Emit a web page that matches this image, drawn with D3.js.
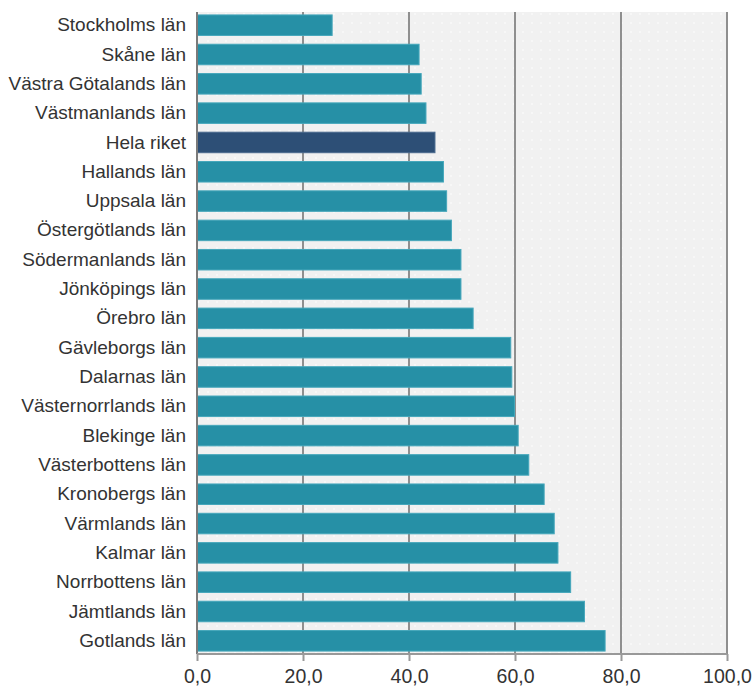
<!DOCTYPE html>
<html>
<head>
<meta charset="utf-8">
<script src="https://cdn.jsdelivr.net/npm/d3@7"></script>
<style>
  body { margin: 0; background: #fff; }
  text { font-family: "Liberation Sans", Arial, sans-serif; }
</style>
</head>
<body>
<div id="canvas"></div>
<script>
// data
const regions = ["Stockholms län", "Skåne län", "Västra Götalands län", "Västmanlands län", "Hela riket",
  "Hallands län", "Uppsala län", "Östergötlands län", "Södermanlands län", "Jönköpings län", "Örebro län",
  "Gävleborgs län", "Dalarnas län", "Västernorrlands län", "Blekinge län", "Västerbottens län",
  "Kronobergs län", "Värmlands län", "Kalmar län", "Norrbottens län", "Jämtlands län", "Gotlands län"];
const values = [25.5, 41.9, 42.3, 43.2, 44.9, 46.5, 47.1, 48.0, 49.8, 49.8, 52.1,
  59.2, 59.4, 59.9, 60.6, 62.6, 65.5, 67.4, 68.1, 70.5, 73.1, 77.0];
const xTicks = [0, 20, 40, 60, 80, 100];
const highlight = "Hela riket";

const width = 752;
const height = 686;
const margin = {top: 12, left: 197, bottom: 32, right: 25};
const iwidth = width - margin.left - margin.right;
const iheight = height - margin.top - margin.bottom;

const data = regions.map((r, i) => ({name: r, value: values[i]}));

const svg = d3.select("#canvas").append("svg")
  .attr("width", width)
  .attr("height", height);

// dotted plot background
const defs = svg.append("defs");
const pat = defs.append("pattern")
  .attr("id", "dots")
  .attr("width", 9).attr("height", 9)
  .attr("patternUnits", "userSpaceOnUse");
pat.append("rect").attr("width", 9).attr("height", 9).attr("fill", "#f1f1f1");
pat.append("circle").attr("cx", 2).attr("cy", 2).attr("r", 0.9).attr("fill", "#fafafa");

const g = svg.append("g").attr("transform", `translate(${margin.left},${margin.top})`);

const x = d3.scaleLinear().domain([0, 100]).range([0, iwidth]);
const y = d3.scaleBand()
  .domain(regions)
  .range([0, iheight])
  .paddingInner(0.3)
  .paddingOuter(0.1);

g.append("rect")
  .attr("width", iwidth)
  .attr("height", iheight)
  .attr("fill", "url(#dots)");

// vertical grid lines
g.append("g")
  .selectAll("line")
  .data(xTicks.slice(1))
  .enter().append("line")
  .attr("x1", d => x(d)).attr("x2", d => x(d))
  .attr("y1", 0).attr("y2", iheight)
  .attr("stroke", "#8f8f8f")
  .attr("stroke-width", 2);

g.selectAll(".bar")
  .data(data)
  .enter().append("rect")
  .attr("class", "bar")
  .attr("x", 0.5)
  .attr("y", d => y(d.name))
  .attr("width", d => x(d.value) - 0.5)
  .attr("height", y.bandwidth())
  .attr("fill", d => d.name === highlight ? "#2d4f76" : "#2690a6")
  .attr("stroke", d => d.name === highlight ? "#4a6a8e" : "#45a7bb")
  .attr("stroke-width", 1);

// category labels
const yAxis = g.append("g")
  .call(d3.axisLeft(y).tickSize(0).tickPadding(11));
yAxis.select(".domain").remove();
yAxis.selectAll("text")
  .attr("font-size", 19)
  .attr("fill", "#333")
  .style("font-family", "'Liberation Sans', Arial, sans-serif");

// left axis line
g.append("line")
  .attr("x1", 0).attr("x2", 0)
  .attr("y1", 0).attr("y2", iheight)
  .attr("stroke", "#7a7a7a")
  .attr("stroke-width", 2);

// bottom axis
const xAxis = g.append("g")
  .attr("transform", `translate(0,${iheight})`)
  .call(d3.axisBottom(x)
    .tickValues(xTicks)
    .tickSize(7)
    .tickPadding(8)
    .tickFormat(d => d3.format(".1f")(d).replace(".", ",")));
xAxis.select(".domain")
  .attr("stroke", "#999")
  .attr("stroke-width", 2)
  .attr("d", `M0,0H${iwidth}`);
xAxis.selectAll(".tick line").attr("stroke", "#999").attr("stroke-width", 2);
xAxis.selectAll("text")
  .attr("font-size", 19.5)
  .attr("fill", "#333")
  .style("font-family", "'Liberation Sans', Arial, sans-serif");
</script>
</body>
</html>
